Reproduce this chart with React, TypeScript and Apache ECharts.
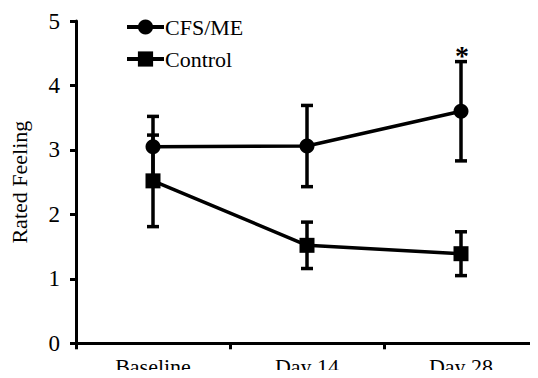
import React, { useEffect, useRef } from "react";
import * as echarts from "echarts";

const categories = ["Baseline", "Day 14", "Day 28"];
const cfsMean = [3.05, 3.06, 3.6];
const cfsErr = [0.47, 0.63, 0.77];
const ctrlMean = [2.52, 1.52, 1.39];
const ctrlErr = [0.71, 0.36, 0.34];
const cfsSignificance = ["", "", "*"];
const ctrlSignificance = ["", "", ""];
const yTicks = [0, 1, 2, 3, 4, 5];

const FONT = "'Liberation Serif', 'Times New Roman', serif";

export default function App() {
  const ref = useRef<HTMLDivElement>(null);
  useEffect(() => {
    if (!ref.current) return;
    const chart = echarts.init(ref.current, null, { renderer: "svg" });

    const errSeries = (name: string, mean: number[], err: number[], sig: string[]) => ({
      type: "custom",
      name: name + " error",
      z: 1,
      silent: true,
      data: mean.map((m, i) => [i, m, err[i]]),
      renderItem: (params: any, api: any) => {
        const idx = api.value(0);
        const m = api.value(1);
        const e = api.value(2);
        const s = sig[idx];
        const hi = api.coord([idx, m + e]);
        const lo = api.coord([idx, m - e]);
        const half = 6;
        const st = { stroke: "#000", lineWidth: 3.5 };
        const children: any[] = [
          { type: "line", shape: { x1: hi[0], y1: hi[1], x2: lo[0], y2: lo[1] }, style: st },
          { type: "line", shape: { x1: hi[0] - half, y1: hi[1], x2: hi[0] + half, y2: hi[1] }, style: st },
          { type: "line", shape: { x1: lo[0] - half, y1: lo[1], x2: lo[0] + half, y2: lo[1] }, style: st },
        ];
        if (s) {
          children.push({
            type: "text",
            x: hi[0] + 1,
            y: hi[1] + 8,
            style: {
              text: s,
              fill: "#000",
              font: `bold 28px ${FONT}`,
              textAlign: "center",
              textVerticalAlign: "bottom",
            },
          });
        }
        return { type: "group", children };
      },
    });

    chart.setOption({
      animation: false,
      backgroundColor: "#fff",
      grid: { left: 70, top: 21, width: 480, height: 322.3 },
      legend: {
        orient: "vertical",
        left: 120,
        top: 11,
        itemWidth: 37,
        itemHeight: 19,
        itemGap: 10,
        lineStyle: { width: 4 },
        textStyle: { fontFamily: FONT, fontSize: 22, color: "#000", padding: [0, 0, 0, -4] },
        data: ["CFS/ME", "Control"],
      },
      xAxis: {
        type: "category",
        data: categories,
        boundaryGap: true,
        axisLine: { lineStyle: { color: "#000", width: 3 } },
        axisTick: { show: true, length: 6, lineStyle: { color: "#000", width: 3 } },
        axisLabel: { color: "#000", fontFamily: FONT, fontSize: 22, margin: 12 },
        splitLine: { show: false },
      },
      yAxis: {
        type: "value",
        min: yTicks[0],
        max: yTicks[yTicks.length - 1],
        interval: 1,
        name: "Rated Feeling",
        nameLocation: "middle",
        nameGap: 46,
        nameRotate: 90,
        nameTextStyle: { color: "#000", fontFamily: FONT, fontSize: 22 },
        axisLine: { show: true, lineStyle: { color: "#000", width: 3 } },
        axisTick: { show: true, length: 6, lineStyle: { color: "#000", width: 3 } },
        axisLabel: { color: "#000", fontFamily: FONT, fontSize: 23, margin: 16 },
        splitLine: { show: false },
      },
      series: [
        errSeries("CFS/ME", cfsMean, cfsErr, cfsSignificance),
        errSeries("Control", ctrlMean, ctrlErr, ctrlSignificance),
        {
          type: "line",
          name: "CFS/ME",
          data: cfsMean,
          z: 3,
          symbol: "circle",
          symbolSize: 15,
          lineStyle: { color: "#000", width: 3.5 },
          itemStyle: { color: "#000" },
        },
        {
          type: "line",
          name: "Control",
          data: ctrlMean,
          z: 3,
          symbol: "rect",
          symbolSize: 15,
          lineStyle: { color: "#000", width: 3.5 },
          itemStyle: { color: "#000" },
        },
      ],
    });
    return () => chart.dispose();
  }, []);
  return <div ref={ref} style={{ width: 538, height: 378, margin: -8 }} />;
}
